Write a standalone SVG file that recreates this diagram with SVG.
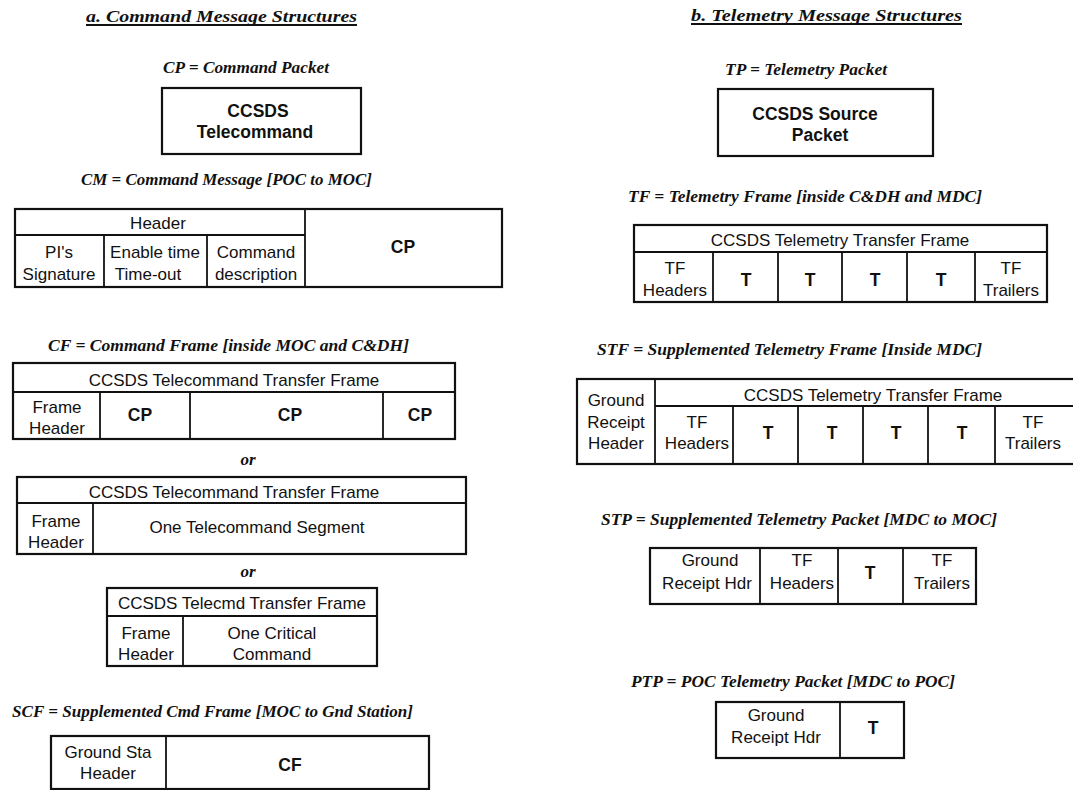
<svg xmlns="http://www.w3.org/2000/svg" width="1073" height="790" viewBox="0 0 1073 790">
<style>
.lbl{font-family:"Liberation Serif","Times New Roman",serif;font-weight:bold;font-style:italic;font-size:17px;fill:#111}
.ttl{font-family:"Liberation Serif","Times New Roman",serif;font-weight:bold;font-style:italic;font-size:17px;fill:#111}
.t{font-family:"Liberation Sans",Arial,sans-serif;font-size:17px;fill:#111;text-anchor:middle}
.b{font-family:"Liberation Sans",Arial,sans-serif;font-size:17.5px;font-weight:bold;fill:#111;text-anchor:middle}
.box{fill:#fff;stroke:#111;stroke-width:2.2}
.ln{stroke:#111;stroke-width:1.8;fill:none}
</style>
<rect width="1073" height="790" fill="#fff"/>

<g id="title-a">
<text class="ttl" x="86" y="22" textLength="271" lengthAdjust="spacingAndGlyphs">a. Command Message Structures</text>
<line class="ln" x1="86" y1="25" x2="357" y2="25" stroke-width="1.2"/>
</g>
<g id="title-b">
<text class="ttl" x="691" y="21" textLength="271" lengthAdjust="spacingAndGlyphs">b. Telemetry Message Structures</text>
<line class="ln" x1="691" y1="24" x2="962" y2="24" stroke-width="1.2"/>
</g>

<g id="connectors"/>

<!-- CP -->
<g id="cp">
<text class="lbl" x="163" y="73" textLength="166" lengthAdjust="spacingAndGlyphs">CP = Command Packet</text>
<rect class="box" x="162" y="88" width="199" height="66"/>
<text class="b" x="258" y="117">CCSDS</text>
<text class="b" x="255" y="138">Telecommand</text>
</g>

<!-- CM -->
<g id="cm">
<text class="lbl" x="81" y="185" textLength="291" lengthAdjust="spacingAndGlyphs">CM = Command Message [POC to MOC]</text>
<rect class="box" x="15" y="209" width="487" height="78"/>
<line class="ln" x1="15" y1="235" x2="305" y2="235"/>
<line class="ln" x1="305" y1="209" x2="305" y2="287"/>
<line class="ln" x1="104" y1="235" x2="104" y2="287"/>
<line class="ln" x1="207" y1="235" x2="207" y2="287"/>
<text class="t" x="158" y="229">Header</text>
<text class="t" x="59" y="258">PI's</text>
<text class="t" x="59" y="280">Signature</text>
<text class="t" x="155" y="258">Enable time</text>
<text class="t" x="148" y="280">Time-out</text>
<text class="t" x="256" y="258">Command</text>
<text class="t" x="256" y="280">description</text>
<text class="b" x="403" y="253">CP</text>
</g>

<!-- CF -->
<g id="cf">
<text class="lbl" x="48" y="351" textLength="361" lengthAdjust="spacingAndGlyphs">CF = Command Frame [inside MOC and C&amp;DH]</text>
<rect class="box" x="13" y="363" width="442" height="76"/>
<line class="ln" x1="13" y1="392" x2="455" y2="392"/>
<line class="ln" x1="100" y1="392" x2="100" y2="439"/>
<line class="ln" x1="190" y1="392" x2="190" y2="439"/>
<line class="ln" x1="383" y1="392" x2="383" y2="439"/>
<text class="t" x="234" y="386">CCSDS Telecommand Transfer Frame</text>
<text class="t" x="57" y="413">Frame</text>
<text class="t" x="57" y="434">Header</text>
<text class="b" x="140" y="421">CP</text>
<text class="b" x="290" y="421">CP</text>
<text class="b" x="420" y="421">CP</text>
</g>

<g id="or1"><text class="lbl" x="248" y="465" text-anchor="middle">or</text></g>

<g id="cf-alt1">
<rect class="box" x="17" y="477" width="449" height="77"/>
<line class="ln" x1="17" y1="503" x2="466" y2="503"/>
<line class="ln" x1="93" y1="503" x2="93" y2="554"/>
<text class="t" x="234" y="498">CCSDS Telecommand Transfer Frame</text>
<text class="t" x="56" y="527">Frame</text>
<text class="t" x="56" y="548">Header</text>
<text class="t" x="257" y="533">One Telecommand Segment</text>
</g>

<g id="or2"><text class="lbl" x="248" y="577" text-anchor="middle">or</text></g>

<g id="cf-alt2">
<rect class="box" x="107" y="588" width="270" height="78"/>
<line class="ln" x1="107" y1="616" x2="377" y2="616"/>
<line class="ln" x1="183" y1="616" x2="183" y2="666"/>
<text class="t" x="242" y="609">CCSDS Telecmd Transfer Frame</text>
<text class="t" x="146" y="639">Frame</text>
<text class="t" x="146" y="660">Header</text>
<text class="t" x="272" y="639">One Critical</text>
<text class="t" x="272" y="660">Command</text>
</g>

<!-- SCF -->
<g id="scf">
<text class="lbl" x="12" y="717" textLength="401" lengthAdjust="spacingAndGlyphs">SCF = Supplemented Cmd Frame [MOC to Gnd Station]</text>
<rect class="box" x="51" y="736" width="378" height="53"/>
<line class="ln" x1="166" y1="736" x2="166" y2="790"/>
<text class="t" x="108" y="758">Ground Sta</text>
<text class="t" x="108" y="779">Header</text>
<text class="b" x="290" y="771">CF</text>
</g>

<!-- TP -->
<g id="tp">
<text class="lbl" x="725" y="75" textLength="162" lengthAdjust="spacingAndGlyphs">TP = Telemetry Packet</text>
<rect class="box" x="718" y="89" width="215" height="67"/>
<text class="b" x="815" y="120">CCSDS Source</text>
<text class="b" x="820" y="141">Packet</text>
</g>

<!-- TF -->
<g id="tf">
<text class="lbl" x="628" y="202" textLength="354" lengthAdjust="spacingAndGlyphs">TF = Telemetry Frame [inside C&amp;DH and MDC]</text>
<rect class="box" x="634" y="225" width="413" height="77"/>
<line class="ln" x1="634" y1="252" x2="1047" y2="252"/>
<line class="ln" x1="713" y1="252" x2="713" y2="302"/>
<line class="ln" x1="778" y1="252" x2="778" y2="302"/>
<line class="ln" x1="842" y1="252" x2="842" y2="302"/>
<line class="ln" x1="907" y1="252" x2="907" y2="302"/>
<line class="ln" x1="975" y1="252" x2="975" y2="302"/>
<text class="t" x="840" y="246">CCSDS Telemetry Transfer Frame</text>
<text class="t" x="675" y="274">TF</text>
<text class="t" x="675" y="296">Headers</text>
<text class="b" x="746" y="286">T</text>
<text class="b" x="810" y="286">T</text>
<text class="b" x="875" y="286">T</text>
<text class="b" x="941" y="286">T</text>
<text class="t" x="1011" y="274">TF</text>
<text class="t" x="1011" y="296">Trailers</text>
</g>

<!-- STF -->
<g id="stf">
<text class="lbl" x="597" y="355" textLength="385" lengthAdjust="spacingAndGlyphs">STF = Supplemented Telemetry Frame [Inside MDC]</text>
<rect class="box" x="577" y="379" width="500" height="85"/>
<line class="ln" x1="655" y1="379" x2="655" y2="464"/>
<line class="ln" x1="655" y1="406" x2="1073" y2="406"/>
<line class="ln" x1="733" y1="406" x2="733" y2="464"/>
<line class="ln" x1="798" y1="406" x2="798" y2="464"/>
<line class="ln" x1="863" y1="406" x2="863" y2="464"/>
<line class="ln" x1="928" y1="406" x2="928" y2="464"/>
<line class="ln" x1="995" y1="406" x2="995" y2="464"/>
<text class="t" x="873" y="401">CCSDS Telemetry Transfer Frame</text>
<text class="t" x="616" y="406">Ground</text>
<text class="t" x="616" y="428">Receipt</text>
<text class="t" x="616" y="449">Header</text>
<text class="t" x="697" y="428">TF</text>
<text class="t" x="697" y="449">Headers</text>
<text class="b" x="768" y="439">T</text>
<text class="b" x="832" y="439">T</text>
<text class="b" x="896" y="439">T</text>
<text class="b" x="962" y="439">T</text>
<text class="t" x="1033" y="428">TF</text>
<text class="t" x="1033" y="449">Trailers</text>
</g>

<!-- STP -->
<g id="stp">
<text class="lbl" x="601" y="525" textLength="396" lengthAdjust="spacingAndGlyphs">STP = Supplemented Telemetry Packet [MDC to MOC]</text>
<rect class="box" x="650" y="548" width="326" height="56"/>
<line class="ln" x1="760" y1="548" x2="760" y2="604"/>
<line class="ln" x1="838" y1="548" x2="838" y2="604"/>
<line class="ln" x1="903" y1="548" x2="903" y2="604"/>
<text class="t" x="710" y="566">Ground</text>
<text class="t" x="707" y="589">Receipt Hdr</text>
<text class="t" x="802" y="566">TF</text>
<text class="t" x="802" y="589">Headers</text>
<text class="b" x="870" y="579">T</text>
<text class="t" x="942" y="566">TF</text>
<text class="t" x="942" y="589">Trailers</text>
</g>

<!-- PTP -->
<g id="ptp">
<text class="lbl" x="631" y="687" textLength="324" lengthAdjust="spacingAndGlyphs">PTP = POC Telemetry Packet [MDC to POC]</text>
<rect class="box" x="716" y="702" width="188" height="56"/>
<line class="ln" x1="840" y1="702" x2="840" y2="758"/>
<text class="t" x="776" y="721">Ground</text>
<text class="t" x="776" y="743">Receipt Hdr</text>
<text class="b" x="873" y="734">T</text>
</g>
</svg>
